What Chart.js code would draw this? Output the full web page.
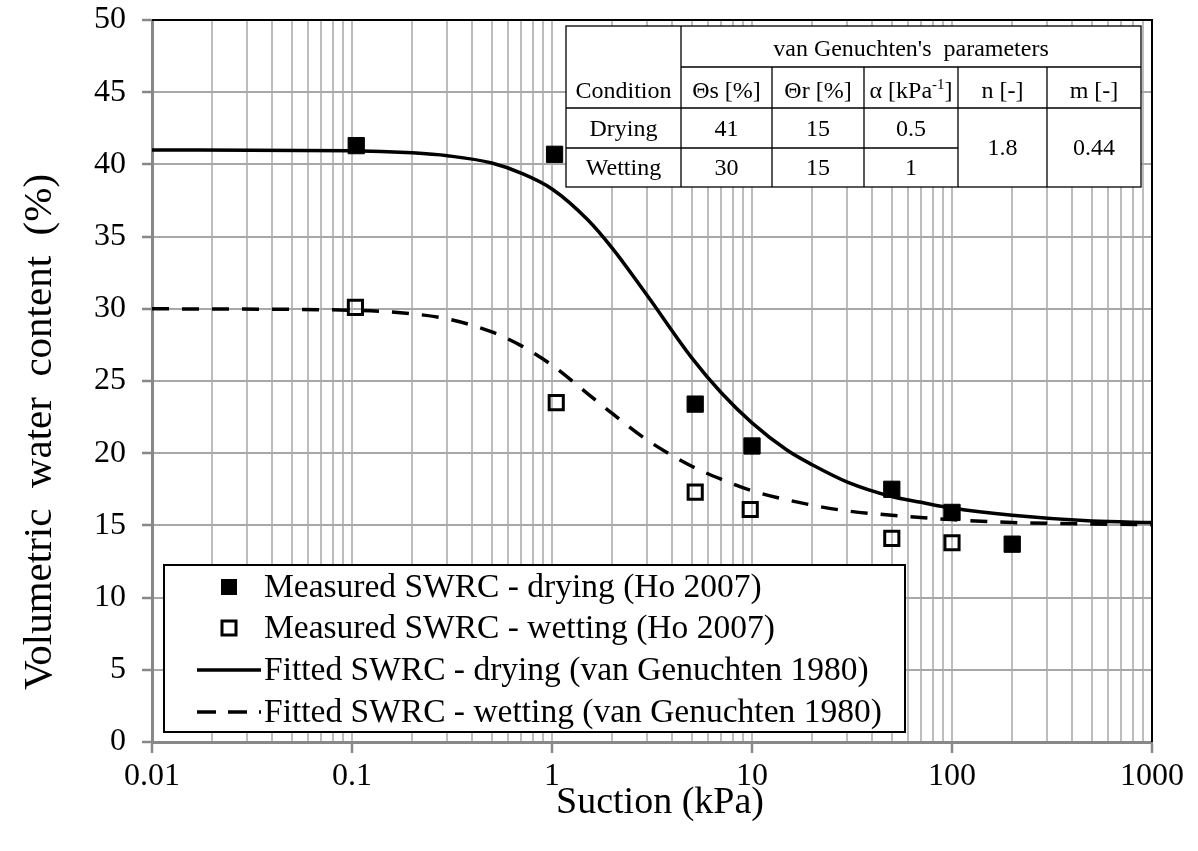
<!DOCTYPE html>
<html>
<head>
<meta charset="utf-8">
<script src="https://cdn.jsdelivr.net/npm/chart.js@4.4.1/dist/chart.umd.min.js"></script>
<style>
  html, body { margin: 0; padding: 0; background: #fff; }
  #wrap { width: 1198px; height: 851px; position: relative; }
</style>
</head>
<body>
<div id="wrap"><canvas id="myChart"></canvas></div>
<script>
// Measured points (suction kPa, water content %)
const dryX = [0.105, 1.03, 5.2, 10, 50, 100, 200];
const dryY = [41.3, 40.7, 23.4, 20.5, 17.5, 15.9, 13.7];
const wetX = [0.104, 1.05, 5.2, 9.8, 50, 100];
const wetY = [30.1, 23.5, 17.3, 16.1, 14.1, 13.8];

// Fitted curves
const fitDryX = [0.01, 0.1, 0.2, 0.3, 0.5, 0.7, 1, 1.5, 2, 3, 5, 7, 10, 15, 20, 30, 50, 70, 100, 200, 500, 1000];
const fitDryY = [41.0, 40.95, 40.8, 40.6, 40.1, 39.4, 38.3, 36.2, 34.2, 30.9, 26.6, 24.2, 22.1, 20.2, 19.2, 18.0, 17.0, 16.6, 16.2, 15.7, 15.3, 15.2];
const fitWetX = [0.01, 0.1, 0.2, 0.3, 0.5, 0.7, 1, 1.5, 2, 3, 5, 7, 10, 20, 30, 50, 100, 200, 500, 1000];
const fitWetY = [30.0, 29.9, 29.65, 29.3, 28.4, 27.45, 26.1, 24.15, 22.75, 20.9, 19.1, 18.2, 17.4, 16.4, 16.0, 15.7, 15.4, 15.2, 15.1, 15.05];

// Axis ticks
const xDecades = [0.01, 0.1, 1, 10, 100, 1000];
const xTickLabels = ["0.01", "0.1", "1", "10", "100", "1000"];
const yTicks = [0, 5, 10, 15, 20, 25, 30, 35, 40, 45, 50];
const xTitle = "Suction (kPa)";
const yTitle = "Volumetric  water  content  (%)";

// Table content
const tableHead = ["Condition", "\u0398s [%]", "\u0398r [%]", "", "n [-]", "m [-]"];
const tableDrying = ["Drying", "41", "15", "0.5"];
const tableWetting = ["Wetting", "30", "15", "1"];
const tableShared = ["1.8", "0.44"];

const legendLabels = [
    "Measured SWRC - drying (Ho 2007)",
    "Measured SWRC - wetting (Ho 2007)",
    "Fitted SWRC - drying (van Genuchten 1980)",
    "Fitted SWRC - wetting (van Genuchten 1980)"
];

const FONT = "'Liberation Serif', 'Times New Roman', serif";

function toPts(xs, ys) {
    return xs.map((x, i) => ({ x: x, y: ys[i] }));
}

// all 1..9 x decade grid positions
const xGrid = [];
xDecades.forEach((d, i) => {
    if (i === xDecades.length - 1) { xGrid.push(d); return; }
    for (let k = 1; k <= 9; k++) xGrid.push(+(d * k).toPrecision(3));
});

function isDecade(v) {
    return xDecades.some(d => Math.abs(d - v) / d < 1e-6);
}

// black frame on top/right, plus table, legend box and axis titles
const overlayPlugin = {
    id: "overlay",
    afterDatasetsDraw(chart) {
        const ctx = chart.ctx;
        const a = chart.chartArea;
        ctx.save();
        ctx.strokeStyle = "#000";
        ctx.lineWidth = 2;
        ctx.beginPath();
        ctx.moveTo(a.left, a.top);
        ctx.lineTo(a.right, a.top);
        ctx.lineTo(a.right, a.bottom);
        ctx.stroke();

        drawTable(ctx);
        drawLegend(ctx);

        // axis titles
        ctx.fillStyle = "#000";
        ctx.textAlign = "center";
        ctx.textBaseline = "middle";
        ctx.font = "38px " + FONT;
        ctx.fillText(xTitle, 660, 803);
        ctx.save();
        ctx.translate(40, 432);
        ctx.rotate(-Math.PI / 2);
        ctx.font = "41px " + FONT;
        ctx.fillText(yTitle, 0, 0);
        ctx.restore();
        ctx.restore();
    }
};

function drawTable(ctx) {
    const cx = [566, 681, 772, 864, 958, 1047, 1141];
    const ry = [26, 67, 108, 148, 187];
    ctx.fillStyle = "#fff";
    ctx.fillRect(cx[0], ry[0], cx[6] - cx[0], ry[4] - ry[0]);
    ctx.strokeStyle = "#000";
    ctx.lineWidth = 1.3;
    ctx.strokeRect(cx[0], ry[0], cx[6] - cx[0], ry[4] - ry[0]);
    ctx.beginPath();
    ctx.moveTo(cx[1], ry[0]); ctx.lineTo(cx[1], ry[4]);
    for (let i = 2; i <= 5; i++) { ctx.moveTo(cx[i], ry[1]); ctx.lineTo(cx[i], ry[4]); }
    ctx.moveTo(cx[1], ry[1]); ctx.lineTo(cx[6], ry[1]);
    ctx.moveTo(cx[0], ry[2]); ctx.lineTo(cx[6], ry[2]);
    ctx.moveTo(cx[0], ry[3]); ctx.lineTo(cx[4], ry[3]);
    ctx.stroke();

    const F = "24px " + FONT;
    ctx.fillStyle = "#000";
    ctx.font = F;
    ctx.textAlign = "center";
    ctx.textBaseline = "middle";
    const mid = i => (cx[i] + cx[i + 1]) / 2;
    ctx.fillText("van Genuchten's  parameters", (cx[1] + cx[6]) / 2, 50);
    tableHead.forEach((t, i) => { if (t) ctx.fillText(t, mid(i), 92); });
    // alpha with superscript
    const base = "\u03b1 [kPa";
    const w1 = ctx.measureText(base).width;
    ctx.font = "15px " + FONT;
    const w2 = ctx.measureText("-1").width;
    ctx.font = F;
    const w3 = ctx.measureText("]").width;
    const sx = mid(3) - (w1 + w2 + w3) / 2;
    ctx.textAlign = "left";
    ctx.fillText(base, sx, 92);
    ctx.font = "15px " + FONT;
    ctx.fillText("-1", sx + w1, 85);
    ctx.font = F;
    ctx.fillText("]", sx + w1 + w2, 92);
    ctx.textAlign = "center";
    tableDrying.forEach((t, i) => ctx.fillText(t, mid(i), 130));
    tableWetting.forEach((t, i) => ctx.fillText(t, mid(i), 169));
    tableShared.forEach((t, i) => ctx.fillText(t, mid(4 + i), 149));
}

function drawLegend(ctx) {
    const L = 164, T = 565, R = 905, B = 732;
    ctx.fillStyle = "#fff";
    ctx.fillRect(L, T, R - L, B - T);
    ctx.strokeStyle = "#000";
    ctx.lineWidth = 2;
    ctx.strokeRect(L, T, R - L, B - T);
    const rows = [587, 628, 670, 712];
    const mx = 229;
    // filled square
    ctx.fillStyle = "#000";
    ctx.fillRect(mx - 8, rows[0] - 8, 16, 16);
    // open square
    ctx.lineWidth = 3;
    ctx.strokeRect(mx - 7, rows[1] - 7, 14, 14);
    // solid line
    ctx.lineWidth = 3.5;
    ctx.beginPath();
    ctx.moveTo(197, rows[2]); ctx.lineTo(261, rows[2]);
    ctx.stroke();
    ctx.setLineDash([19, 12]);
    ctx.beginPath();
    ctx.moveTo(197, rows[3]); ctx.lineTo(261, rows[3]);
    ctx.stroke();
    ctx.setLineDash([]);
    ctx.fillStyle = "#000";
    ctx.font = "33.5px " + FONT;
    ctx.textAlign = "left";
    ctx.textBaseline = "middle";
    legendLabels.forEach((t, i) => ctx.fillText(t, 264, rows[i] + 1));
}

function initChart() {
    const ctx = document.getElementById("myChart");
    if (!ctx) return;

    const data = {
        datasets: [
            {
                label: legendLabels[0],
                data: toPts(dryX, dryY),
                showLine: false,
                pointStyle: "rect",
                pointRadius: 11.5,
                pointBackgroundColor: "#000",
                pointBorderColor: "#000",
                pointBorderWidth: 1,
            },
            {
                label: legendLabels[1],
                data: toPts(wetX, wetY),
                showLine: false,
                pointStyle: "rect",
                pointRadius: 10,
                pointBackgroundColor: "rgba(0,0,0,0)",
                pointBorderColor: "#000",
                pointBorderWidth: 3,
            },
            {
                label: legendLabels[2],
                data: toPts(fitDryX, fitDryY),
                showLine: true,
                borderColor: "#000",
                borderWidth: 3.5,
                pointRadius: 0,
                cubicInterpolationMode: "monotone",
            },
            {
                label: legendLabels[3],
                data: toPts(fitWetX, fitWetY),
                showLine: true,
                borderColor: "#000",
                borderWidth: 3.5,
                borderDash: [17, 13],
                pointRadius: 0,
                cubicInterpolationMode: "monotone",
            },
        ],
    };

    const config = {
        type: "scatter",
        data: data,
        options: {
            responsive: true,
            maintainAspectRatio: false,
            animation: false,
            layout: {
                padding: { left: 0, top: 20, right: 46, bottom: 0 },
            },
            plugins: {
                legend: { display: false },
                tooltip: { enabled: false },
            },
            scales: {
                x: {
                    type: "logarithmic",
                    min: 0.01,
                    max: 1000,
                    afterBuildTicks: (scale) => {
                        scale.ticks = xGrid.map(v => ({ value: v, major: isDecade(v) }));
                    },
                    afterFit: (scale) => {
                        scale.height = 109;
                        scale.paddingLeft = 0;
                        scale.paddingRight = 0;
                    },
                    ticks: {
                        autoSkip: false,
                        maxRotation: 0,
                        padding: 4,
                        color: "#000",
                        font: { family: FONT, size: 32 },
                        callback: (v) => {
                            const i = xDecades.findIndex(d => Math.abs(d - v) / d < 1e-6);
                            return i >= 0 ? xTickLabels[i] : "";
                        },
                    },
                    grid: {
                        color: "#bdbdbd",
                        lineWidth: 2,
                        tickLength: 11,
                        tickColor: (c) => (c.tick && isDecade(c.tick.value)) ? "#888" : "rgba(0,0,0,0)",
                        tickWidth: 2.5,
                    },
                    border: { color: "#888", width: 3 },
                },
                y: {
                    min: 0,
                    max: 50,
                    afterBuildTicks: (scale) => {
                        scale.ticks = yTicks.map(v => ({ value: v }));
                    },
                    afterFit: (scale) => {
                        scale.width = 152;
                        scale.paddingTop = 0;
                        scale.paddingBottom = 0;
                    },
                    ticks: {
                        padding: 16,
                        color: "#000",
                        font: { family: FONT, size: 32 },
                    },
                    grid: {
                        color: "#a8a8a8",
                        lineWidth: 2,
                        tickLength: 10,
                        tickColor: "#888",
                        tickWidth: 2.5,
                    },
                    border: { color: "#888", width: 3 },
                },
            },
        },
        plugins: [overlayPlugin],
    };

    return new Chart(ctx, config);
}

initChart();
</script>
</body>
</html>
